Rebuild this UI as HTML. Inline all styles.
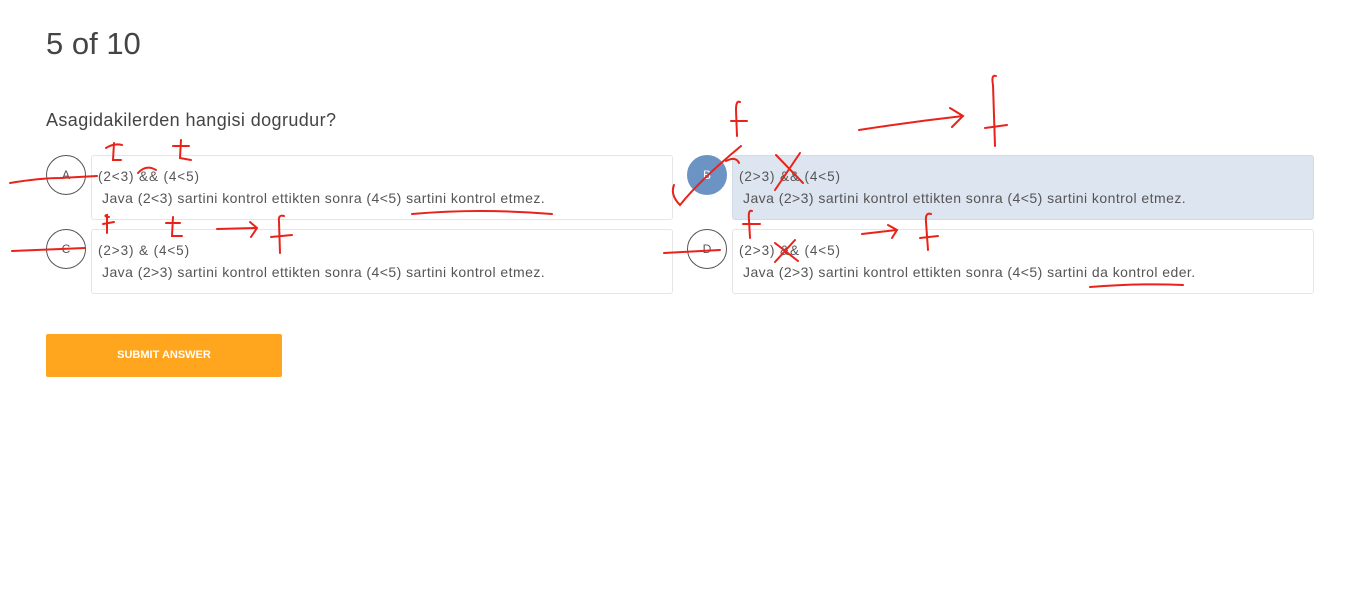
<!DOCTYPE html>
<html><head><meta charset="utf-8"><style>
body{margin:0;width:1357px;height:600px;background:#fff;font-family:"Liberation Sans",sans-serif;position:relative;overflow:hidden;color:#444}
.abs{position:absolute}
.card{position:absolute;border:1px solid #e6e6e6;border-radius:3px;background:#fff;width:580px;height:63px}
.circ{position:absolute;width:38px;height:38px;border:1px solid #555;border-radius:50%;text-align:center;line-height:38px;font-size:12px;color:#555;background:#fff}
.l1{position:absolute;left:6px;top:13px;font-size:13.5px;color:#555;letter-spacing:0.9px}
.l2{position:absolute;left:10px;top:34px;font-size:14px;color:#555;letter-spacing:0.45px}
</style></head><body>
<div class="abs" style="left:46px;top:26px;font-size:31px;color:#444">5 of 10</div>
<div class="abs" style="left:46px;top:110px;font-size:18px;color:#444;letter-spacing:0.4px">Asagidakilerden hangisi dogrudur?</div>

<div class="card" style="left:91px;top:155px"><div class="l1">(2&lt;3) &amp;&amp; (4&lt;5)</div><div class="l2">Java (2&lt;3) sartini kontrol ettikten sonra (4&lt;5) sartini kontrol etmez.</div></div>
<div class="card" style="left:91px;top:229px"><div class="l1">(2&gt;3) &amp; (4&lt;5)</div><div class="l2">Java (2&gt;3) sartini kontrol ettikten sonra (4&lt;5) sartini kontrol etmez.</div></div>
<div class="card" style="left:732px;top:155px;background:#dde5f0;border-color:#d2dae6"><div class="l1">(2&gt;3) &amp;&amp; (4&lt;5)</div><div class="l2">Java (2&gt;3) sartini kontrol ettikten sonra (4&lt;5) sartini kontrol etmez.</div></div>
<div class="card" style="left:732px;top:229px"><div class="l1">(2&gt;3) &amp;&amp; (4&lt;5)</div><div class="l2">Java (2&gt;3) sartini kontrol ettikten sonra (4&lt;5) sartini da kontrol eder.</div></div>

<div class="circ" style="left:46px;top:155px">A</div>
<div class="circ" style="left:46px;top:229px">C</div>
<div class="circ" style="left:687px;top:155px;background:#6b93c4;border-color:#6b93c4;color:#fff">B</div>
<div class="circ" style="left:687px;top:229px">D</div>

<div class="abs" style="left:46px;top:334px;width:236px;height:43px;background:#ffa51e;border-radius:2px;color:#fff;font-size:11px;font-weight:bold;text-align:center;line-height:43px">SUBMIT ANSWER</div>

<svg class="abs" style="left:0;top:0" width="1357" height="600" fill="none" stroke="#e8231a" stroke-width="2" stroke-linecap="round">
<path d="M10 183 Q40 178 60 178 L97 176"/>
<path d="M12 251 L85 248"/>
<path d="M664 253 L720 250"/>
<path d="M412 214 Q480 208 552 214"/>
<path d="M1090 287 Q1140 283 1183 285"/>
<path d="M106 148 Q114 143 122 145 M114 143 L113 160 L121 160"/>
<path d="M173 146 L189 146 M181 140 L180 158 L191 160"/>
<path d="M138 173 Q146 164 156 170"/>
<path d="M109 217 Q103 216 107 215 L107 233 M103 224 L114 222"/>
<path d="M166 223 L180 223 M173 217 L172 236 L182 236"/>
<path d="M217 229 L257 228 M250 222 L257 228 L251 237"/>
<path d="M284 216 Q278 214 279 222 L280 253 M271 237 L292 235"/>
<path d="M740 102 Q736 100 736 110 L737 136 M731 121 L747 121"/>
<path d="M741 146 Q700 180 680 205 Q670 195 674 185"/>
<path d="M726 161 Q736 156 739 163"/>
<path d="M776 155 L803 183 M800 153 L775 190"/>
<path d="M859 130 Q910 122 963 116 M950 108 L963 116 L952 127"/>
<path d="M996 76 Q991 74 993 85 L995 146 M985 128 L1007 125"/>
<path d="M752 211 Q748 209 749 220 L750 238 M743 224 L760 224"/>
<path d="M775 243 L798 261 M795 240 L775 262"/>
<path d="M862 234 L897 230 M888 225 L897 230 L892 238"/>
<path d="M931 214 Q925 212 926 222 L928 250 M920 238 L938 236"/>
</svg>
</body></html>
